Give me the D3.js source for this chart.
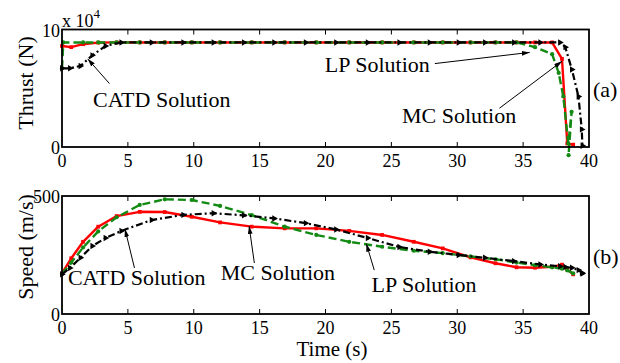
<!DOCTYPE html>
<html>
<head>
<meta charset="utf-8">
<script src="https://cdn.jsdelivr.net/npm/d3@7"></script>
<style>
  body { margin: 0; background: #fff; }
</style>
</head>
<body>
<div id="chart"></div>
<script>

// time grids (s)
const mcTime = [0, 0.7, 1.6, 2.75, 4.15, 5.9, 7.8, 9.85, 12.0, 14.4, 16.9, 19.3, 21.8, 24.3, 26.7, 28.9, 31.0, 32.9, 34.5, 35.9, 37.2, 37.95, 38.35, 38.8];
const lpThrustTime = [0, 0.1, 1.6, 2.75, 4.15, 5.9, 7.8, 9.85, 12.0, 14.4, 16.9, 19.3, 21.8, 24.3, 26.7, 28.9, 31.0, 32.9, 34.5, 35.9, 37.2, 37.7, 38.05, 38.43, 38.68, 38.45];
const lpSpeedTime = [0, 0.7, 1.6, 2.75, 4.15, 5.9, 7.8, 9.85, 12.0, 14.4, 16.9, 19.3, 21.8, 24.3, 26.7, 28.9, 31.0, 32.9, 34.5, 35.9, 37.2, 37.95, 38.35, 38.8];
const catdTime = [0, 0.6, 1.4, 2.3, 3.3, 4.5, 6.8, 9.2, 11.5, 13.8, 16.1, 18.5, 20.8, 23.2, 25.6, 27.9, 30.1, 32.1, 34.3, 36.3, 37.8, 38.2, 38.7, 39.2, 39.45, 39.5];

// thrust (x 10^4 N)
const mcThrust = [8.6, 8.5, 8.75, 8.88, 8.9, 8.9, 8.9, 8.9, 8.9, 8.9, 8.9, 8.9, 8.9, 8.9, 8.9, 8.9, 8.9, 8.9, 8.9, 8.9, 8.9, 7.5, 0.3, 0.2];
const lpThrust = [6.7, 8.9, 8.9, 8.9, 8.9, 8.9, 8.9, 8.9, 8.9, 8.9, 8.9, 8.9, 8.9, 8.9, 8.9, 8.9, 8.9, 8.9, 8.9, 8.5, 7.9, 6.3, 4.3, 0.3, 3.0, -0.7];
const catdThrust = [6.7, 6.7, 6.9, 7.8, 8.6, 8.9, 8.9, 8.9, 8.9, 8.9, 8.9, 8.9, 8.9, 8.9, 8.9, 8.9, 8.9, 8.9, 8.9, 8.9, 8.9, 8.5, 6.6, 4.3, 1.5, 0.1];

// speed (m/s)
const mcSpeed = [172, 236, 306, 370, 415, 433, 432, 412, 388, 370, 363, 363, 352, 335, 306, 278, 240, 215, 198, 196, 200, 209, 188, 168];
const lpSpeed = [170, 218, 282, 350, 410, 462, 486, 483, 458, 419, 370, 335, 306, 285, 268, 258, 244, 232, 218, 207, 198, 192, 185, 172];
const catdSpeed = [168, 195, 238, 288, 322, 352, 398, 420, 427, 418, 405, 385, 358, 322, 284, 264, 250, 238, 224, 210, 202, 199, 196, 186, 175, 172];

const xTicks = [0, 5, 10, 15, 20, 25, 30, 35, 40];
const thrustTicks = [0, 10];
const speedTicks = [0, 500];

const FONT = 'Liberation Serif';

const width = 620, height = 363;
const svg = d3.select('#chart').append('svg')
  .attr('width', width)
  .attr('height', height);

svg.append('defs').append('marker')
  .attr('id', 'arrow')
  .attr('viewBox', '0 0 10 6')
  .attr('refX', 10).attr('refY', 3)
  .attr('markerWidth', 8).attr('markerHeight', 5)
  .attr('markerUnits', 'userSpaceOnUse')
  .attr('orient', 'auto')
  .append('path')
  .attr('d', 'M0,0 L10,3 L0,6 z')
  .attr('fill', '#000');

const x = d3.scaleLinear().domain([0, 40]).range([62, 589]);
const yThrust = d3.scaleLinear().domain([0, 10]).range([147, 29.5]);
const ySpeed = d3.scaleLinear().domain([0, 500]).range([314, 196]);

const styles = {
  mc:   { color: '#ff0000', dash: null,      width: 2.4, symbol: d3.symbolSquare,   size: 14, rot: 0 },
  lp:   { color: '#138a13', dash: '8,4',     width: 2.4, symbol: d3.symbolCircle,   size: 14, rot: 0 },
  catd: { color: '#000000', dash: '7,3,2,3', width: 2.2, symbol: d3.symbolTriangle, size: 18, rot: 90 }
};

function label(sel, size) {
  return sel.style('font-family', FONT).style('font-size', size + 'px').attr('fill', '#000');
}

function drawPanel(yScale, yTicks, series, notes, tag) {
  const g = svg.append('g');
  const [y0, y1] = yScale.range();

  // x ticks, inward on both sides
  xTicks.slice(1, -1).forEach(t => {
    g.append('line').attr('x1', x(t)).attr('x2', x(t)).attr('y1', y0).attr('y2', y0 - 5)
      .attr('stroke', '#000').attr('stroke-width', 1);
    g.append('line').attr('x1', x(t)).attr('x2', x(t)).attr('y1', y1).attr('y2', y1 + 5)
      .attr('stroke', '#000').attr('stroke-width', 1);
  });

  label(g.selectAll('.xlab').data(xTicks).enter().append('text')
    .attr('x', d => x(d)).attr('y', y0 + 20)
    .attr('text-anchor', 'middle'), 18)
    .text(d => d);

  label(g.selectAll('.ylab').data(yTicks).enter().append('text')
    .attr('x', 60).attr('y', d => yScale(d) + 7)
    .attr('text-anchor', 'end'), 18)
    .text(d => d);

  // series
  series.forEach(s => {
    const st = styles[s.key];
    const pts = s.t.map((t, i) => [t, s.v[i]]);
    const line = d3.line().x(d => x(d[0])).y(d => yScale(d[1]));
    g.append('path')
      .datum(pts)
      .attr('d', line)
      .attr('fill', 'none')
      .attr('stroke', st.color)
      .attr('stroke-width', st.width)
      .attr('stroke-dasharray', st.dash)
      .attr('stroke-linejoin', 'round');
    g.selectAll(null).data(pts).enter().append('path')
      .attr('d', d3.symbol().type(st.symbol).size(st.size))
      .attr('transform', d => `translate(${x(d[0])},${yScale(d[1])}) rotate(${st.rot})`)
      .attr('fill', st.color);
  });

  // frame
  g.append('rect')
    .attr('x', x(0)).attr('y', y1)
    .attr('width', x(40) - x(0)).attr('height', y0 - y1)
    .attr('fill', 'none').attr('stroke', '#000').attr('stroke-width', 1.8);

  // annotations
  notes.forEach(n => {
    g.append('line')
      .attr('x1', x(n.from[0])).attr('y1', yScale(n.from[1]))
      .attr('x2', x(n.to[0])).attr('y2', yScale(n.to[1]))
      .attr('stroke', '#000').attr('stroke-width', 1)
      .attr('marker-end', 'url(#arrow)');
    label(g.append('text')
      .attr('x', x(n.at[0])).attr('y', yScale(n.at[1])), 22)
      .text(n.text);
  });

  label(g.append('text')
    .attr('x', 593).attr('y', (y0 + y1) / 2 + 9), 22)
    .text(tag);
}

drawPanel(yThrust, thrustTicks, [
  { key: 'mc', t: mcTime, v: mcThrust },
  { key: 'lp', t: lpThrustTime, v: lpThrust },
  { key: 'catd', t: catdTime, v: catdThrust }
], [
  { text: 'CATD Solution', at: [2.35, 3.4], from: [3.6, 5.4], to: [1.95, 7.5] },
  { text: 'LP Solution', at: [19.95, 6.4], from: [28.3, 7.1], to: [35.5, 8.05] },
  { text: 'MC Solution', at: [25.8, 2.05], from: [33.2, 3.3], to: [37.95, 7.3] }
], '(a)');

drawPanel(ySpeed, speedTicks, [
  { key: 'mc', t: mcTime, v: mcSpeed },
  { key: 'lp', t: lpSpeedTime, v: lpSpeed },
  { key: 'catd', t: catdTime, v: catdSpeed }
], [
  { text: 'CATD Solution', at: [0.45, 123], from: [5.5, 195], to: [4.78, 360] },
  { text: 'MC Solution', at: [12.05, 144], from: [14.6, 216], to: [14.2, 373] },
  { text: 'LP Solution', at: [23.5, 93], from: [23.7, 186], to: [23.1, 298] }
], '(b)');

// axis titles
label(svg.append('text')
  .attr('transform', 'translate(33,83) rotate(-90)')
  .attr('text-anchor', 'middle'), 22)
  .text('Thrust (N)');

label(svg.append('text')
  .attr('transform', 'translate(33,247) rotate(-90)')
  .attr('text-anchor', 'middle'), 22)
  .text('Speed (m/s)');

label(svg.append('text')
  .attr('x', 332).attr('y', 356)
  .attr('text-anchor', 'middle'), 21)
  .text('Time (s)');

// exponent
const expo = label(svg.append('text').attr('x', 62).attr('y', 27), 18);
expo.append('tspan').text('x 10');
expo.append('tspan').attr('dy', -9).style('font-size', '13px').text('4');

</script>
</body>
</html>
